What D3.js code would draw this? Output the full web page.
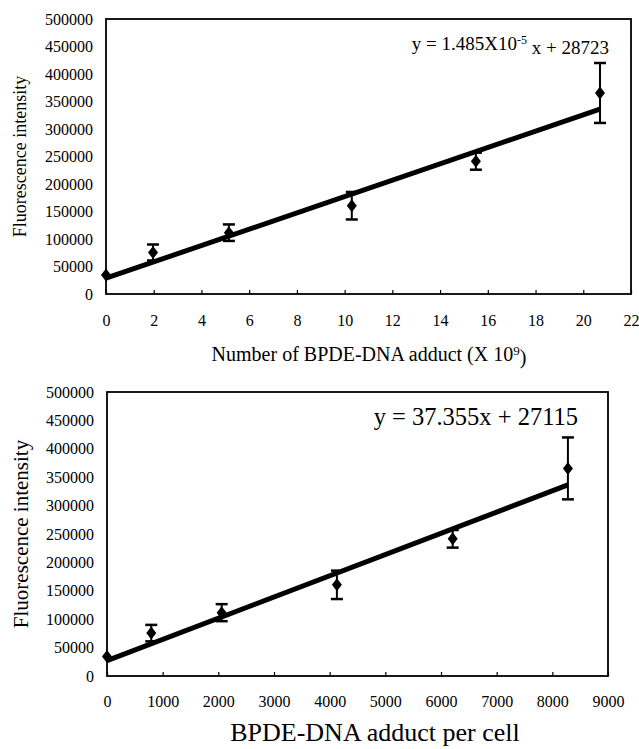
<!DOCTYPE html>
<html>
<head>
<meta charset="utf-8">
<script src="https://cdn.jsdelivr.net/npm/d3@7"></script>
<style>
  body { margin: 0; background: #fff; }
  svg text { font-family: "Liberation Serif", "Times New Roman", serif; fill: #000; }
</style>
</head>
<body>
<div class="chart"></div>
<script>
var serif = "'Liberation Serif', 'Times New Roman', serif";

// shared y values (fluorescence) and error
var fluo = [34500, 75500, 111500, 160500, 241500, 365500];
var errs = [6000, 14500, 15000, 25000, 15500, 54500];

// top panel: number of adducts (x 10^9)
var adductsTop = [0, 1.97, 5.15, 10.3, 15.5, 20.7];
var topXTicks = [0, 2, 4, 6, 8, 10, 12, 14, 16, 18, 20, 22];
// bottom panel: adducts per cell
var adductsCell = [0, 795, 2060, 4130, 6210, 8280];
var botXTicks = [0, 1000, 2000, 3000, 4000, 5000, 6000, 7000, 8000, 9000];
var yTicks = [0, 50000, 100000, 150000, 200000, 250000, 300000, 350000, 400000, 450000, 500000];

// fits
var fitTop = {slope: 14850, icept: 28723};
var fitBot = {slope: 37.355, icept: 27115};

var svg = d3.select(".chart")
    .append("svg")
    .attr("width", 639)
    .attr("height", 749);

function panel(o) {
    var x = d3.scaleLinear().domain(o.xDomain).range([o.left, o.right]);
    var y = d3.scaleLinear().domain([0, 500000]).range([o.bottom, o.top]);
    var g = svg.append("g");

    // frame
    g.append("rect")
        .attr("x", o.left).attr("y", o.top)
        .attr("width", o.right - o.left).attr("height", o.bottom - o.top)
        .attr("fill", "none").attr("stroke", "#000").attr("stroke-width", 1.8);

    // x axis, ticks pointing inside
    var xa = g.append("g")
        .attr("transform", "translate(0," + o.bottom + ")")
        .call(d3.axisBottom(x).tickValues(o.xTicks).tickSizeInner(-4).tickSizeOuter(0)
            .tickPadding(o.xPad).tickFormat(d3.format("d")));
    xa.select(".domain").remove();
    xa.selectAll("line").attr("stroke-width", 1.2);
    xa.selectAll("text").style("font-family", serif).style("font-size", o.xFont + "px");

    // y axis, labels only
    var ya = g.append("g")
        .attr("transform", "translate(" + o.left + ",0)")
        .call(d3.axisLeft(y).tickValues(yTicks).tickSize(0).tickPadding(13).tickFormat(d3.format("d")));
    ya.select(".domain").remove();
    ya.selectAll("text").style("font-family", serif).style("font-size", "16px");

    // titles
    g.append("text")
        .attr("transform", "translate(" + o.yTitleX + "," + ((o.top + o.bottom) / 2) + ") rotate(-90)")
        .attr("text-anchor", "middle")
        .attr("dy", "0.35em")
        .style("font-family", serif)
        .style("font-size", o.yTitleFont + "px")
        .text("Fluorescence intensity");

    var xt = g.append("text")
        .attr("x", o.xTitleX).attr("y", o.xTitleY)
        .attr("text-anchor", "middle")
        .style("font-family", serif)
        .style("font-size", o.xTitleFont + "px");
    xt.append("tspan").text(o.xTitle);
    if (o.xTitleSup) {
        xt.append("tspan").attr("dy", "-0.45em").style("font-size", "13px").text(o.xTitleSup);
        xt.append("tspan").attr("dy", "0.45em").text(")");
    }

    // regression line
    var x1 = d3.max(o.xs);
    g.append("line")
        .attr("x1", x(0)).attr("y1", y(o.fit.icept))
        .attr("x2", x(x1)).attr("y2", y(o.fit.slope * x1 + o.fit.icept))
        .attr("stroke", "#000").attr("stroke-width", 5);

    // points with error bars
    var pts = g.selectAll(".pt")
        .data(o.xs.map(function(d, i) { return {x: d, y: fluo[i], e: errs[i]}; }))
        .enter()
        .append("g")
        .attr("class", "pt");

    pts.append("line")
        .attr("x1", function(d) { return x(d.x); })
        .attr("x2", function(d) { return x(d.x); })
        .attr("y1", function(d) { return y(d.y - d.e); })
        .attr("y2", function(d) { return y(d.y + d.e); })
        .attr("stroke", "#000").attr("stroke-width", 2);

    [1, -1].forEach(function(s) {
        pts.filter(function(d) { return d.x > 0; })
            .append("line")
            .attr("x1", function(d) { return x(d.x) - 6; })
            .attr("x2", function(d) { return x(d.x) + 6; })
            .attr("y1", function(d) { return y(d.y + s * d.e); })
            .attr("y2", function(d) { return y(d.y + s * d.e); })
            .attr("stroke", "#000").attr("stroke-width", 2.5);
    });

    pts.append("path")
        .attr("d", "M0,-6.5L5,0L0,6.5L-5,0Z")
        .attr("transform", function(d) { return "translate(" + x(d.x) + "," + y(d.y) + ")"; })
        .attr("fill", "#000");

    // equation
    var eq = g.append("text")
        .attr("x", o.eqX).attr("y", o.eqY)
        .attr("text-anchor", "end")
        .style("font-family", serif)
        .style("font-size", o.eqFont + "px");
    o.eq.forEach(function(p) {
        eq.append("tspan")
            .attr("dy", p.dy || 0)
            .style("font-size", p.size ? p.size + "px" : null)
            .text(p.t);
    });
}

panel({
    left: 106, right: 631, top: 19, bottom: 294,
    xDomain: [0, 22], xTicks: topXTicks, xs: adductsTop, fit: fitTop,
    xPad: 21, xFont: 16,
    yTitleX: 20, yTitleFont: 18,
    xTitle: "Number of BPDE-DNA adduct (X 10", xTitleSup: "9",
    xTitleX: 369, xTitleY: 361, xTitleFont: 20,
    eqX: 609, eqY: 50, eqFont: 19,
    eq: [{t: "y = 1.485X10"}, {t: "-5", dy: "-0.5em", size: 12}, {t: " x + 28723", dy: "0.5em"}]
});

panel({
    left: 107, right: 608, top: 392, bottom: 676,
    xDomain: [0, 9000], xTicks: botXTicks, xs: adductsCell, fit: fitBot,
    xPad: 20, xFont: 16,
    yTitleX: 21, yTitleFont: 21,
    xTitle: "BPDE-DNA adduct per cell",
    xTitleX: 375, xTitleY: 741, xTitleFont: 26,
    eqX: 578, eqY: 425, eqFont: 24.5,
    eq: [{t: "y = 37.355x + 27115"}]
});
</script>
</body>
</html>
